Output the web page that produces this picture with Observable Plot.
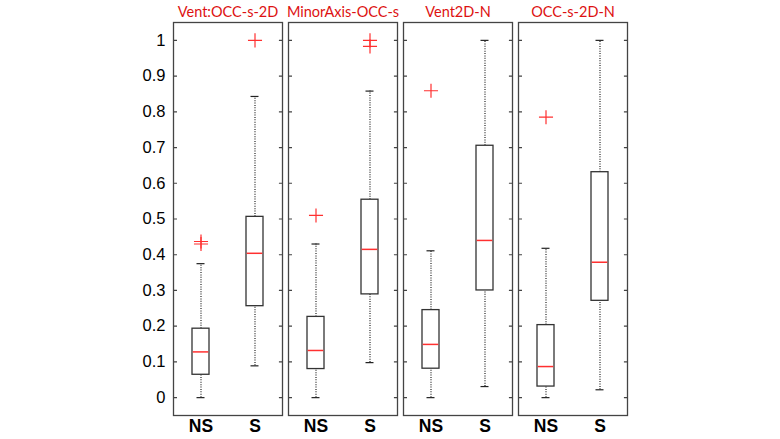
<!DOCTYPE html>
<html>
<head>
<meta charset="utf-8">
<script src="https://cdn.jsdelivr.net/npm/d3@7"></script>
<script src="https://cdn.jsdelivr.net/npm/@observablehq/plot@0.6"></script>
<style>
  html, body { margin: 0; padding: 0; background: #fff; }
  #chart { width: 780px; height: 439px; }
</style>
</head>
<body>
<div id="chart"></div>
<script>
// ---- data ----
const panels = ["Vent:OCC-s-2D", "MinorAxis-OCC-s", "Vent2D-N", "OCC-s-2D-N"];
const groups = ["NS", "S"];
// one entry per box, in order: panel 1 NS, panel 1 S, panel 2 NS, ...
const boxPanel = [0, 0, 1, 1, 2, 2, 3, 3];
const boxGroup = ["NS", "S", "NS", "S", "NS", "S", "NS", "S"];
const whiskerLow  = [0.000, 0.089, 0.000, 0.098, 0.000, 0.031, 0.000, 0.022];
const quart1      = [0.064, 0.256, 0.080, 0.289, 0.081, 0.300, 0.031, 0.271];
const medians     = [0.128, 0.404, 0.132, 0.415, 0.149, 0.440, 0.087, 0.379];
const quart3      = [0.193, 0.506, 0.226, 0.554, 0.245, 0.705, 0.203, 0.631];
const whiskerHigh = [0.375, 0.843, 0.430, 0.858, 0.411, 1.000, 0.418, 1.000];
// outliers
const outPanel = [0, 0, 0, 1, 1, 1, 2, 3];
const outGroup = ["NS", "NS", "S", "NS", "S", "S", "NS", "NS"];
const outValue = [0.430, 0.437, 1.000, 0.510, 0.983, 1.000, 0.859, 0.785];
const yTicks = [0, 0.1, 0.2, 0.3, 0.4, 0.5, 0.6, 0.7, 0.8, 0.9, 1];

// ---- tables built from the arrays ----
const boxes = boxPanel.map((p, i) => ({
  panel: panels[p], group: boxGroup[i],
  lo: whiskerLow[i], q1: quart1[i], med: medians[i], q3: quart3[i], hi: whiskerHigh[i]
}));
const outliers = outPanel.map((p, i) => ({panel: panels[p], group: outGroup[i], value: outValue[i]}));

const W = 780, H = 439, mL = 172, mR = 151, mT = 22, mB = 24;
const fxPad = 0.05;
const bandW = (W - mL - mR) / (panels.length - fxPad) * (1 - fxPad);
const tickLen = 4;

const frameColor = "#444";
const boxColor = "#333";
const red = "#ff3030";

const chart = Plot.plot({
  width: W,
  height: H,
  marginLeft: mL,
  marginRight: mR,
  marginTop: mT,
  marginBottom: mB,
  style: {background: "#fff", fontFamily: "'Liberation Sans', Arial, sans-serif"},
  fx: {domain: panels, paddingInner: fxPad, paddingOuter: 0},
  x: {domain: groups, paddingInner: 0.693, paddingOuter: 0.346},
  y: {domain: [-0.05, 1.05]},
  marks: [
    // inward ticks on both sides of every panel
    Plot.tickY(yTicks, {y: d => d, stroke: frameColor, strokeWidth: 1.2,
      strokeDasharray: `${tickLen},${bandW - 2 * tickLen},${tickLen}`}),
    Plot.frame({stroke: frameColor, strokeWidth: 1.3}),
    // labeled y axis (leftmost)
    Plot.axisY(yTicks, {anchor: "left", tickSize: 0, tickPadding: 8, fontSize: 16.5, fill: "#000", label: null, tickFormat: d => String(d)}),
    Plot.axisX({anchor: "bottom", tickSize: 0, tickPadding: 4, fontSize: 17.5, fontWeight: "bold", fill: "#000", label: null}),
    Plot.axisFx({anchor: "top", tickSize: 0, tickPadding: 6, fontSize: 14.5, fill: "#dd1111", label: null,
      fontFamily: "Lato, 'Noto Sans', sans-serif"}),
    // whiskers
    Plot.ruleX(boxes, {fx: "panel", x: "group", y1: "lo", y2: "q1", stroke: "#222", strokeWidth: 1.2, strokeDasharray: "1,1.4"}),
    Plot.ruleX(boxes, {fx: "panel", x: "group", y1: "q3", y2: "hi", stroke: "#222", strokeWidth: 1.2, strokeDasharray: "1,1.4"}),
    Plot.tickY(boxes, {fx: "panel", x: "group", y: "lo", stroke: "#222", strokeWidth: 1.2, insetLeft: 4.5, insetRight: 4.5}),
    Plot.tickY(boxes, {fx: "panel", x: "group", y: "hi", stroke: "#222", strokeWidth: 1.2, insetLeft: 4.5, insetRight: 4.5}),
    // boxes
    Plot.barY(boxes, {fx: "panel", x: "group", y1: "q1", y2: "q3", fill: "#fff", stroke: boxColor, strokeWidth: 1.3}),
    Plot.tickY(boxes, {fx: "panel", x: "group", y: "med", stroke: red, strokeWidth: 1.5, insetLeft: 0.7, insetRight: 0.7}),
    // outliers
    Plot.dot(outliers, {fx: "panel", x: "group", y: "value", symbol: "plus", r: 4.6, stroke: red, strokeWidth: 1.2})
  ]
});
document.getElementById("chart").appendChild(chart);
</script>
</body>
</html>
